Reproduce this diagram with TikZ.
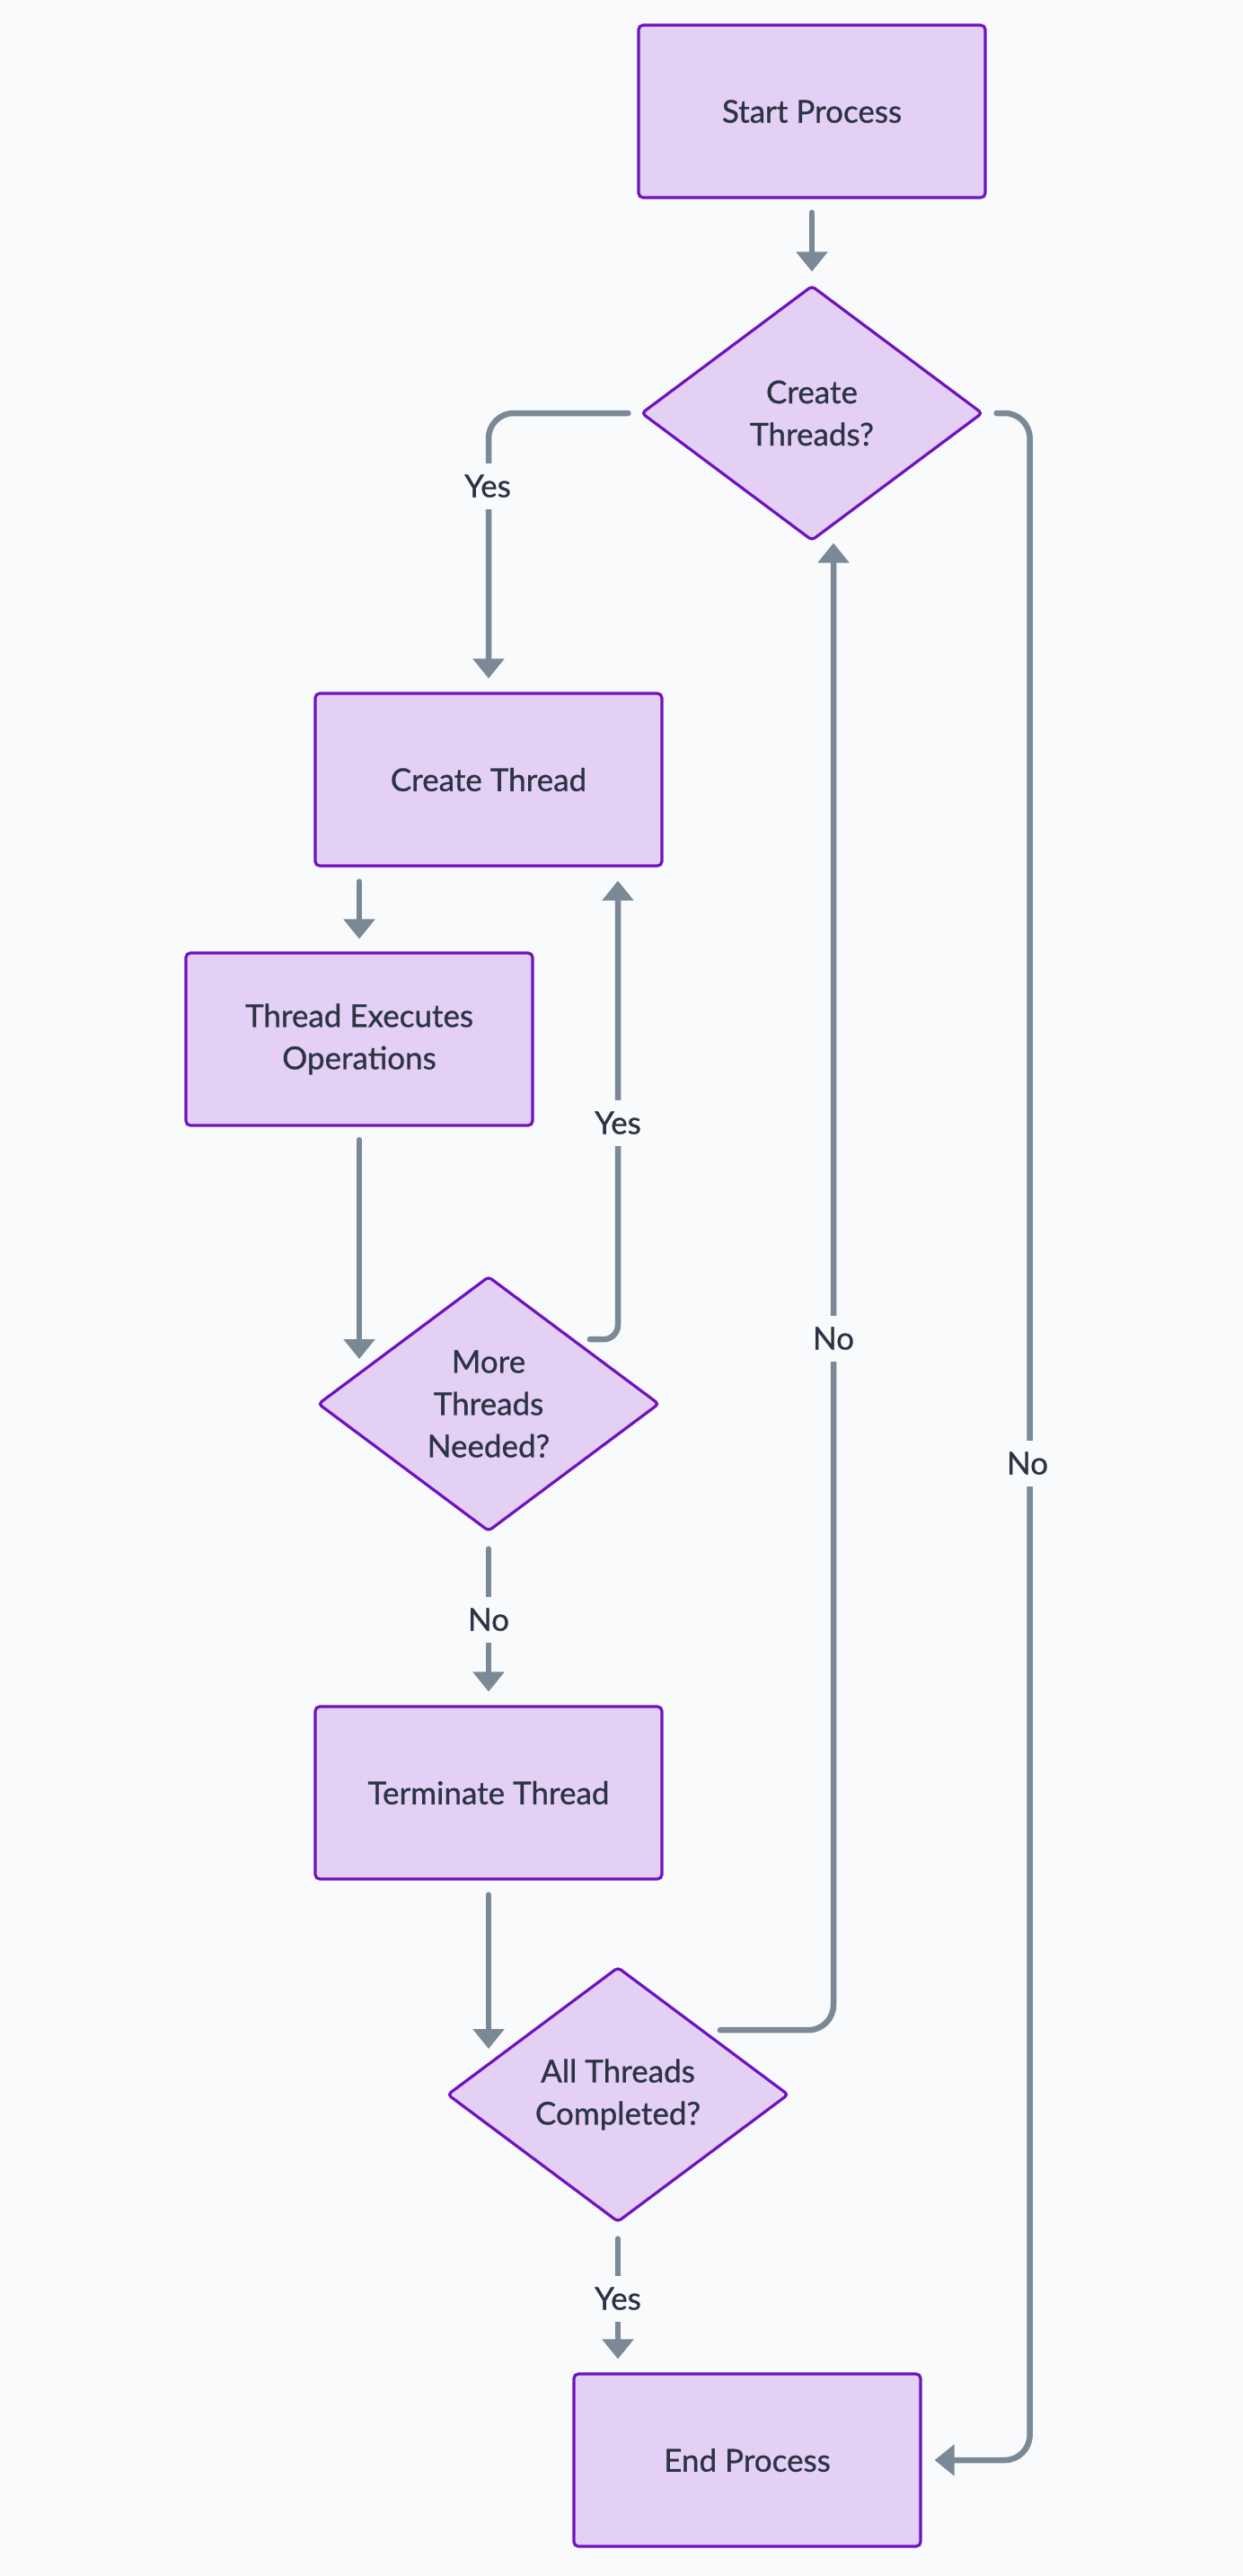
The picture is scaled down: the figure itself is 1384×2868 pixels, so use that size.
\documentclass[tikz,border=0pt]{standalone}
\usepackage{fontspec}
\setmainfont{Lato}[FakeBold=0.8]
\usetikzlibrary{shapes.geometric,arrows.meta,calc}
\definecolor{bgc}{HTML}{F8FAFC}
\definecolor{nodefill}{HTML}{E4D0F4}
\definecolor{nodeborder}{HTML}{6F12BF}
\definecolor{edgec}{HTML}{7B8895}
\definecolor{txtc}{HTML}{2C3345}
\begin{document}
\begin{tikzpicture}[x=0.5pt,y=-0.5pt,
  every node/.style={font=\fontsize{17.5}{23.5}\selectfont, text=txtc},
  box/.style={draw=nodeborder, fill=nodefill, line width=1.6pt, rounded corners=2.5pt,
    minimum width=193pt, minimum height=96pt, inner sep=0pt, align=center},
  dec/.style={diamond, draw=nodeborder, fill=nodefill, line width=1.6pt, rounded corners=2pt,
    minimum width=190pt, minimum height=142pt, inner sep=0pt, align=center},
  conn/.style={draw=edgec, line width=3.25pt, line cap=round, rounded corners=14pt,
    -{Triangle[width=17pt 0 0,length=11pt 0 0]}},
  lbl/.style={fill=bgc, inner xsep=2pt, inner ysep=6.5pt, text height=12.5pt, text depth=0pt}
]
\fill[bgc] (0,0) rectangle (1384,2868);
\useasboundingbox (0,0) rectangle (1384,2868);

% nodes
\node[box] (start) at (904,124) {Start Process};
\node[dec] (d1) at (904,460) {Create\\Threads?};
\node[box] (ct) at (544,868) {Create Thread};
\node[box] (te) at (400,1157) {Thread Executes\\Operations};
\node[dec] (d2) at (544,1563) {More\\Threads\\Needed?};
\node[box] (tt) at (544,1996) {Terminate Thread};
\node[dec] (d3) at (688,2332) {All Threads\\Completed?};
\node[box] (endp) at (832,2739) {End Process};

% connectors
\draw[conn, shorten <=7.5pt, shorten >=7pt] (start.south) -- (d1.north);
\draw[conn, shorten <=6.5pt, shorten >=7.5pt] (d1.west) -| (ct.north);
\draw[conn, shorten <=7pt, shorten >=7pt] (d1.east) -| ($(endp.east)+(120,0)$) -- (endp.east);
\draw[conn, shorten <=8pt, shorten >=7pt] (te.north |- ct.south) -- (te.north);
\draw[conn, shorten <=7.25pt, shorten >=25pt] (te.south) -- (te.south |- d2.west);
\draw[conn, rounded corners=8pt, shorten <=8.5pt, shorten >=7.5pt] (d2.north east) -| ([xshift=72pt]ct.south);
\draw[conn, shorten <=9pt, shorten >=7.5pt] (d2.south) -- (tt.north);
\draw[conn, shorten <=8pt, shorten >=25.5pt] (tt.south) -- (tt.south |- d3.west);
\draw[conn, shorten <=9pt, shorten >=0.5pt] (d3.north east) -| ([xshift=12pt]d1.south);
\draw[conn, shorten <=8.5pt, shorten >=7.5pt] (d3.south) -- (d3.south |- endp.north);

% edge labels
\node[lbl] (l1) at (543,541) {Yes};
\node[lbl] (l2) at (1144,1629) {No};
\node[lbl] (l3) at (688,1250) {Yes};
\node[lbl] (l4) at (544,1803) {No};
\node[lbl] (l5) at (928,1490) {No};
\node[lbl] (l6) at (688,2559) {Yes};
\end{tikzpicture}
\end{document}
